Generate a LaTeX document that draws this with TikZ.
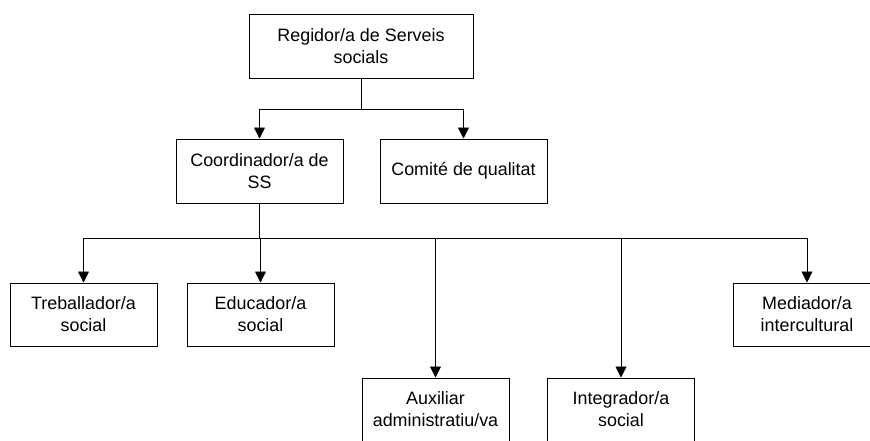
\documentclass[tikz,border=0pt]{standalone}
\usepackage{fontspec}
\setmainfont{Liberation Sans}
\usetikzlibrary{positioning, arrows.meta}

\tikzset{
  caixa/.style = {rectangle, draw, color = black, line width = 1pt, align = center,
                  inner sep = 0pt, font = \fontsize{17.9}{22}\selectfont},
  fletxa/.style = {-{Triangle[length = 11pt, width = 11pt]}, line width = 0.9pt}
}

\begin{document}
\begin{tikzpicture}[x = 1pt, y = -1pt]
        \clip (0, 0) rectangle (870, 440);
        \node[caixa, minimum width = 224pt, minimum height = 64pt] (regidor) at (361, 46) {Regidor/a de Serveis\\socials};
        \node[caixa, minimum width = 167pt, minimum height = 64pt] (coord) at (259.5, 171) {Coordinador/a de\\SS};
        \node[caixa, minimum width = 167pt, minimum height = 64pt] (comite) at (463.5, 171) {Comité de qualitat};

        \node[caixa, minimum width = 147pt, minimum height = 63pt] (treb) at (83.5, 314.5) {Treballador/a\\social};
        \node[caixa, minimum width = 147pt, minimum height = 63pt] (educ) [right = 29pt of treb] {Educador/a\\social};
        \node[caixa, minimum width = 147pt, minimum height = 63pt] (aux) at (435.5, 409.5) {Auxiliar\\administratiu/va};
        \node[caixa, minimum width = 147pt, minimum height = 63pt] (integ) at (621, 409.5) {Integrador/a\\social};
        \node[caixa, minimum width = 147pt, minimum height = 63pt] (medi) at (807, 314.5) {Mediador/a\\intercultural};

        \coordinate (sup) at (361, 109);
        \coordinate (inf) at (259.5, 238);

        \draw[line width = 0.9pt] (regidor.south) -- (sup);
        \draw[fletxa] (sup) -| (coord.north);
        \draw[fletxa] (sup) -| (comite.north);

        \draw[line width = 0.9pt] (coord.south) -- (inf);
        \draw[fletxa] (inf) -| (treb.north);
        \draw[fletxa] (inf) -| (educ.north);
        \draw[fletxa] (inf) -| (aux.north);
        \draw[fletxa] (inf) -| (integ.north);
        \draw[fletxa] (inf) -| (medi.north);
      \end{tikzpicture}
\end{document}
